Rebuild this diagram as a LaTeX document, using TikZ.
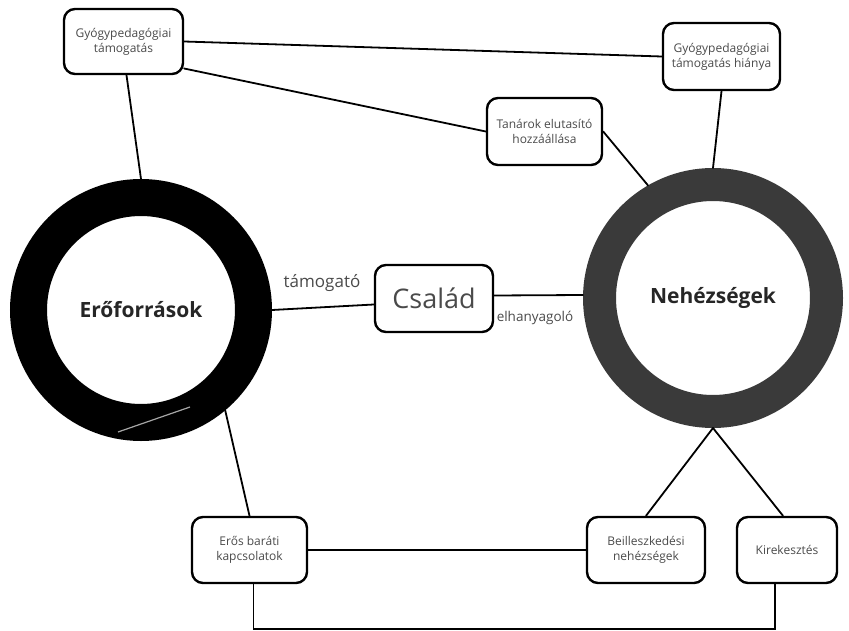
\documentclass[tikz,border=0pt]{standalone}
\usepackage{fontspec}
\setmainfont{Open Sans}
\definecolor{txtgray}{HTML}{4A4A4A}
\definecolor{ringgray}{HTML}{3A3A3A}
\tikzset{
  box/.style={draw, line width=2.4pt, rounded corners=11pt, align=center,
    inner sep=0pt, text=txtgray, font=\fontsize{12}{15}\selectfont},
  ring/.style={circle, draw, inner sep=0pt, text=black!85,
    font=\fontsize{21}{24}\bfseries},
  conn/.style={line width=1.8pt, line cap=round},
  lbl/.style={text=txtgray, inner sep=0pt}
}
\begin{document}
\begin{tikzpicture}[x=1pt, y=-1pt]
  \useasboundingbox (0,0) rectangle (849,631);
  % the two rings
  \node[ring, line width=37pt, minimum size=225pt] (res) at (141,310) {Erőforrások};
  \node[ring, draw=ringgray, line width=33pt, minimum size=227pt] (neh) at (713,298) {Nehézségek};
  \draw[gray!70, line width=1.2pt] (118,432) -- (190,407);
  % boxes
  \node[box, minimum width=119pt, minimum height=65pt] (gyt) at (123.5,41.5) {Gyógypedagógiai\\támogatás};
  \node[box, minimum width=117pt, minimum height=67pt] (gyh) at (721.5,56.5) {Gyógypedagógiai\\támogatás hiánya};
  \node[box, minimum width=115pt, minimum height=67pt] (tan) at (544.5,131.5) {Tanárok elutasító\\hozzáállása};
  \node[box, minimum width=118pt, minimum height=67pt, font=\fontsize{27}{30}\selectfont] (csa) at (434,298.5) {Család};
  \node[box, minimum width=115pt, minimum height=66pt] (eros) at (249.5,550) {Erős baráti\\kapcsolatok};
  \node[box, minimum width=118pt, minimum height=66pt] (beill) at (646,550) {Beilleszkedési\\nehézségek};
  \node[box, minimum width=100pt, minimum height=66pt] (kir) at (787,550) {Kirekesztés};
  % labels
  \node[lbl, font=\fontsize{17}{20}\selectfont] (tam) at (322,283) {támogató};
  \node[lbl, font=\fontsize{13.5}{16}\selectfont] (elh) at (535,318) {elhanyagoló};
  % connectors
  \draw[conn] (gyt.east) -- (gyh.west);
  \draw[conn] (gyt.-24) -- (tan.west);
  \draw[conn] ([xshift=3pt]gyt.south) -- (res.north);
  \draw[conn] (gyh.south) -- (neh.north);
  \draw[conn] (tan.east) -- (neh.120);
  \draw[conn] (res.east) -- ([yshift=-6pt]csa.west);
  \draw[conn] ([yshift=3pt]csa.east) -- ([yshift=3pt]neh.west);
  \draw[conn] (res.-50) -- (eros.north);
  \draw[conn] (eros.east) -- (beill.west);
  \draw[conn] (neh.south) -- (beill.north);
  \draw[conn] (neh.south) -- ([xshift=-4pt]kir.north);
  \draw[conn] ([xshift=4pt]eros.south) -- ++(0,45) -| ([xshift=-12pt]kir.south);
\end{tikzpicture}
\end{document}
